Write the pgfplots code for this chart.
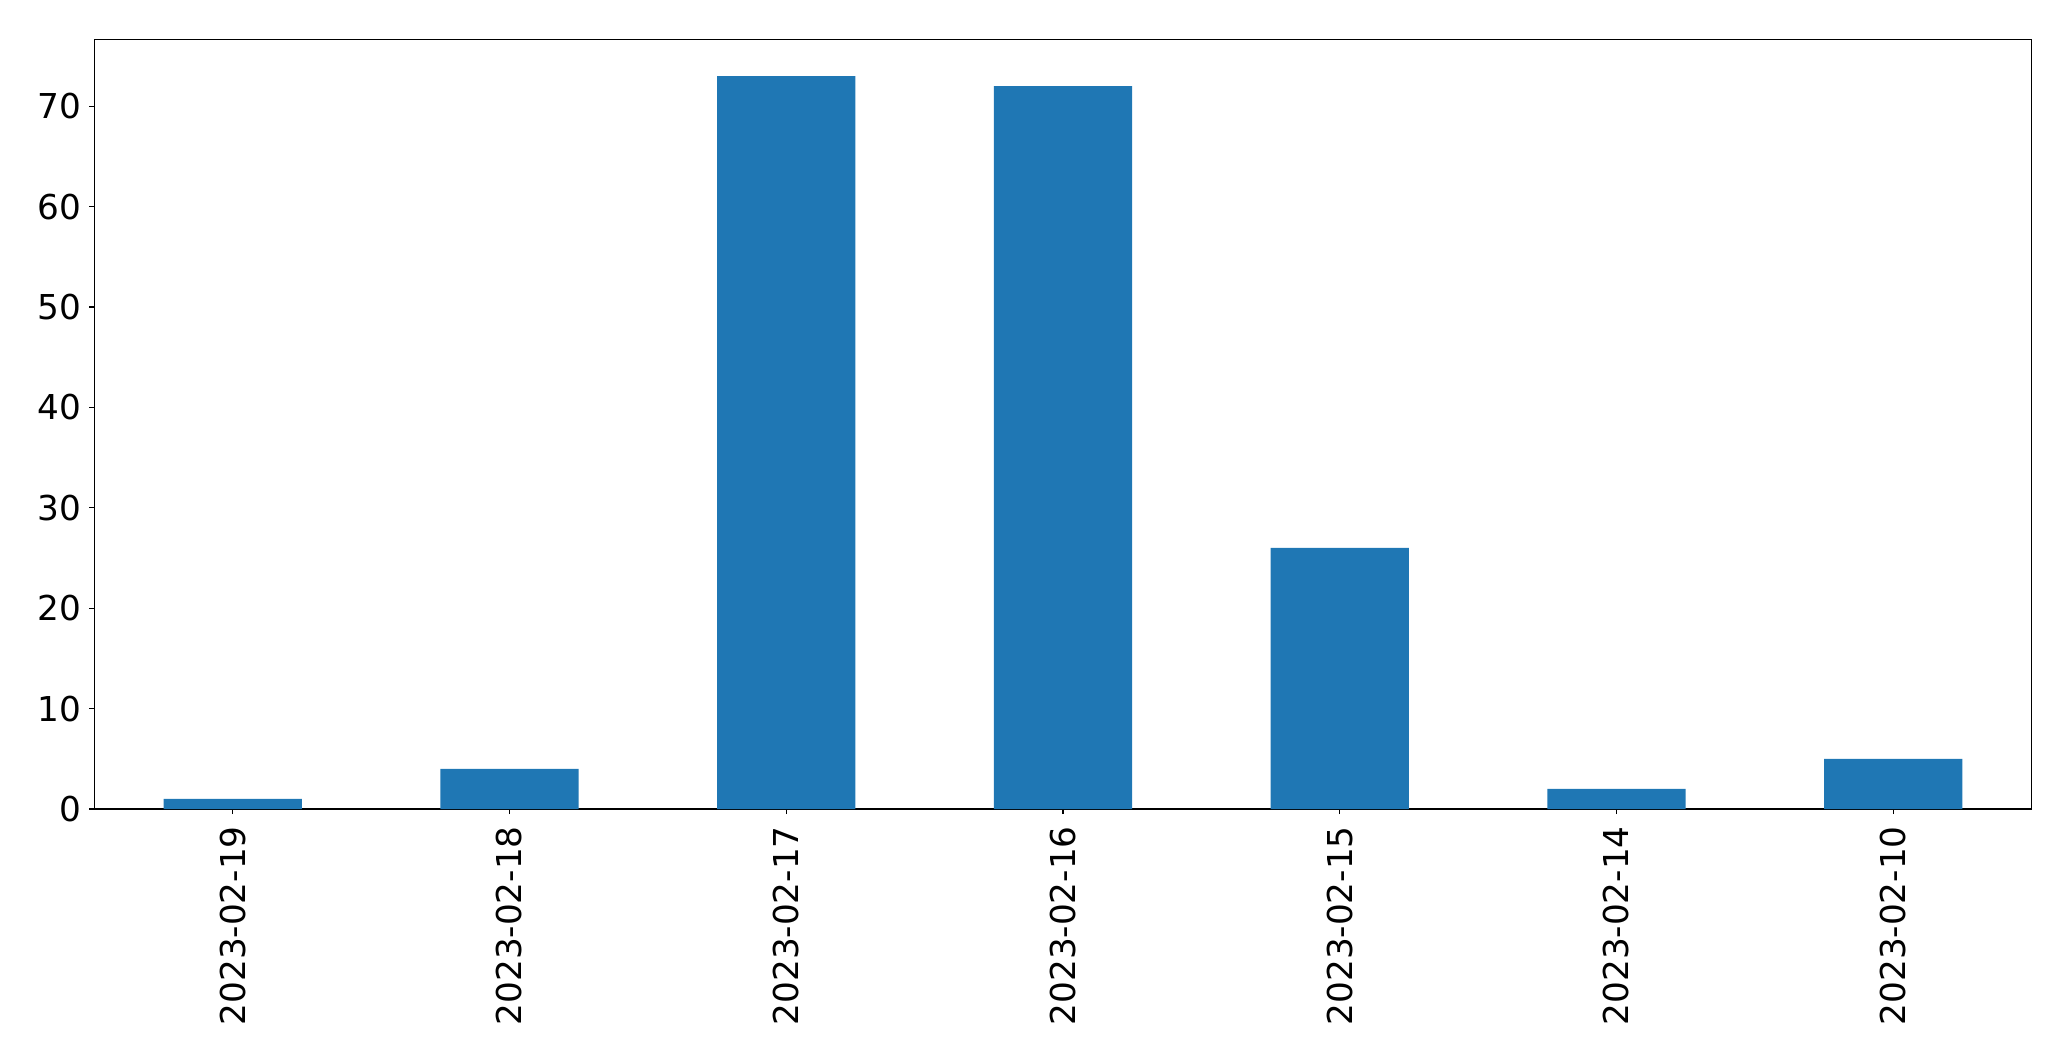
\documentclass[border=0pt]{standalone}
\usepackage{fontspec}
\setmainfont{DejaVu Sans}
\usepackage{pgfplots}
\pgfplotsset{compat=1.18}
\definecolor{tabblue}{HTML}{1F77B4}
\begin{document}
\begin{tikzpicture}[x=1bp,y=1bp]
\begin{axis}[
  at={(0,0)}, anchor=south west,
  scale only axis,
  width=968.6bp, height=384.75bp,
  xmin=-0.5, xmax=6.5, ymin=0, ymax=76.65,
  ybar, bar width=0.5,
  xtick={0,1,2,3,4,5,6},
  xticklabels={2023-02-19,2023-02-18,2023-02-17,2023-02-16,2023-02-15,2023-02-14,2023-02-10},
  ytick={0,10,20,30,40,50,60,70},
  xtick pos=bottom, ytick pos=left,
  tick align=outside,
  major tick length=2.5bp,
  every tick/.style={black, line width=0.6bp},
  axis line style={black, line width=0.6bp},
  /pgf/number format/assume math mode=true,
  tick label style={font=\fontsize{17.2}{20}\selectfont, inner sep=0pt},
  xticklabel style={yshift=-5.9bp, rotate=90, anchor=east},
  yticklabel style={xshift=-4bp, anchor=east},
]
\addplot[fill=tabblue, draw=none] coordinates {(0,1) (1,4) (2,73) (3,72) (4,26) (5,2) (6,5)};
\end{axis}
\pgfresetboundingbox
\path[use as bounding box] (-47.2bp,-126bp) rectangle (988.3bp,404.5bp);
\end{tikzpicture}
\end{document}
